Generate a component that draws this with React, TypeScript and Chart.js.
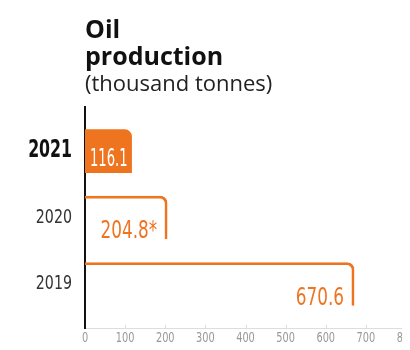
import React, { useEffect, useRef } from 'react';
import { Chart, registerables } from 'chart.js';

Chart.register(...registerables);

const years = ['2021', '2020', '2019'];
const production = [116.1, 204.8, 670.6];
const valueLabels = ['116.1', '204.8*', '670.6'];
const filled = [true, false, false];
const highlighted = [true, false, false];
const titleLines = ['Oil', 'production'];
const subtitleText = '(thousand tonnes)';
const xMin = 0;
const xMax = 800;
const xStep = 100;

const ORANGE = '#EE7420';
const COND = "'DejaVu Sans Condensed', 'Liberation Sans Narrow', sans-serif";
const SANS = "'Open Sans', 'Noto Sans', sans-serif";
const SQUEEZE = 0.75;

function drawSqueezed(
  ctx: CanvasRenderingContext2D,
  text: string,
  x: number,
  y: number,
  font: string,
  color: string,
  align: CanvasTextAlign,
  baseline: CanvasTextBaseline,
  sx: number
) {
  ctx.save();
  ctx.font = font;
  ctx.fillStyle = color;
  ctx.textAlign = align;
  ctx.textBaseline = baseline;
  ctx.translate(x, y);
  ctx.scale(sx, 1);
  ctx.fillText(text, 0, 0);
  ctx.restore();
}

const axisLabelPlugin = {
  id: 'axisLabels',
  afterDraw(chart: any) {
    const ctx: CanvasRenderingContext2D = chart.ctx;
    const xs = chart.scales.x;
    const ys = chart.scales.y;
    const area = chart.chartArea;
    xs.ticks.forEach((t: any) => {
      const px = xs.getPixelForValue(t.value);
      if (t.value !== xMin) {
        ctx.save();
        ctx.strokeStyle = '#dcdcdc';
        ctx.lineWidth = 1;
        ctx.beginPath();
        ctx.moveTo(Math.round(px) + 0.5, area.bottom);
        ctx.lineTo(Math.round(px) + 0.5, area.bottom - 3);
        ctx.stroke();
        ctx.restore();
      }
      drawSqueezed(ctx, String(t.value), px, area.bottom + 10, `14.5px ${COND}`, '#999999', 'center', 'middle', SQUEEZE);
    });
    years.forEach((yr, i) => {
      const py = ys.getPixelForValue(i);
      const font = highlighted[i] ? `bold 24px ${COND}` : `20px ${COND}`;
      const color = highlighted[i] ? '#111111' : '#333333';
      drawSqueezed(ctx, yr, area.left - 13, py, font, color, 'right', 'middle', highlighted[i] ? 0.73 : 0.79);
    });
  },
};

const valueLabelPlugin = {
  id: 'valueLabels',
  afterDatasetsDraw(chart: any) {
    const ctx: CanvasRenderingContext2D = chart.ctx;
    const meta = chart.getDatasetMeta(0);
    meta.data.forEach((bar: any, i: number) => {
      const { x, y, base, height } = bar.getProps(['x', 'y', 'base', 'height'], true);
      const bottom = y + height / 2;
      const font = `25px ${COND}`;
      const pad = filled[i] ? 4 : 10;
      const lift = filled[i] ? 7 : 1;
      let sx = SQUEEZE;
      if (filled[i]) {
        ctx.save();
        ctx.font = font;
        const w = ctx.measureText(valueLabels[i]).width;
        ctx.restore();
        const room = x - base - 2 * pad - 1;
        if (w * sx > room) sx = room / w;
      }
      drawSqueezed(ctx, valueLabels[i], x - pad, bottom - lift, font, filled[i] ? '#ffffff' : ORANGE, 'right', 'alphabetic', sx);
    });
  },
};

export default function App() {
  const ref = useRef<HTMLCanvasElement | null>(null);

  useEffect(() => {
    if (!ref.current) return;
    const chart = new Chart(ref.current, {
      type: 'bar',
      data: {
        datasets: [
          {
            data: production.map((v, i) => ({ x: v, y: i })),
            backgroundColor: (c: any) => (filled[c.dataIndex] ? ORANGE : 'rgba(0,0,0,0)'),
            borderColor: ORANGE,
            borderWidth: (c: any) =>
              filled[c.dataIndex] ? 0 : { top: 2, right: 2, bottom: 0, left: 0 },
            borderRadius: { topLeft: 0, topRight: 7, bottomLeft: 0, bottomRight: 0 },
            borderSkipped: false,
            barThickness: 43,
          } as any,
        ],
      },
      options: {
        indexAxis: 'y',
        animation: false,
        responsive: false,
        layout: { padding: { left: 0, right: 4, top: 0, bottom: 0 } },
        plugins: {
          legend: { display: false },
          tooltip: { enabled: false },
          title: {
            display: true,
            text: titleLines,
            align: 'start',
            fullSize: false,
            color: '#111111',
            font: { family: SANS, size: 25, weight: 'bold', lineHeight: 1.08 },
            padding: { top: 9, bottom: 0 },
          },
          subtitle: {
            display: true,
            text: subtitleText,
            align: 'start',
            fullSize: false,
            color: '#222222',
            font: { family: SANS, size: 22, weight: 'normal', lineHeight: 1.15 },
            padding: { top: 1, bottom: 10 },
          },
        },
        scales: {
          x: {
            type: 'linear',
            min: xMin,
            max: xMax,
            offset: false,
            ticks: { stepSize: xStep, display: false },
            grid: { display: false, drawTicks: false },
            border: { display: true, color: '#dddddd', width: 1 },
            afterFit: (s: any) => {
              s.paddingRight = 0;
              s.paddingLeft = 0;
              s.height = 22;
            },
          },
          y: {
            type: 'linear',
            reverse: true,
            offset: false,
            min: -0.66,
            max: years.length - 1 + 0.66,
            afterBuildTicks: (s: any) => {
              s.ticks = years.map((_, i) => ({ value: i }));
            },
            afterFit: (s: any) => {
              s.width = 77;
            },
            ticks: { display: false },
            grid: { display: false, drawTicks: false, offset: false },
            border: { display: true, color: '#111111', width: 2 },
          },
        },
      },
      plugins: [valueLabelPlugin, axisLabelPlugin],
    } as any);
    return () => chart.destroy();
  }, []);

  return (
    <div style={{ width: 402, height: 342 }}>
      <canvas ref={ref} width={402} height={342} style={{ display: 'block' }} />
    </div>
  );
}
